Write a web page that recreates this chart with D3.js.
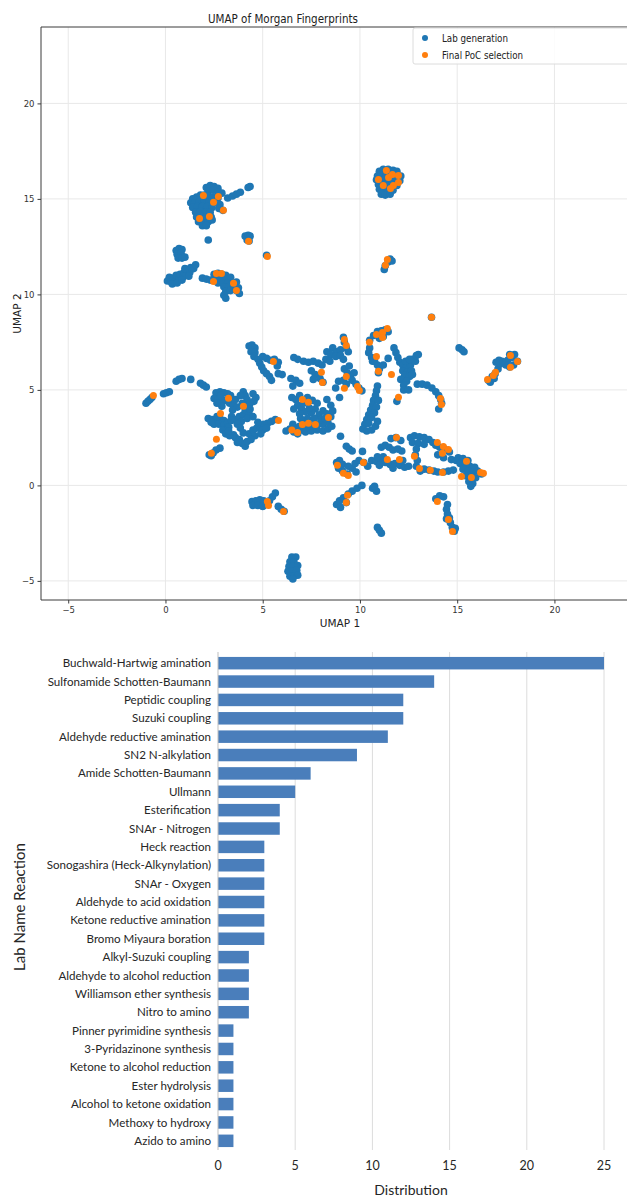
<!DOCTYPE html>
<html>
<head>
<meta charset="utf-8">
<script src="https://cdn.jsdelivr.net/npm/d3@7"></script>
<style>
  body { margin: 0; background: #fff; }
  svg { display: block; }
</style>
</head>
<body>
<svg id="chart"></svg>
<script>
// ---------------------------------------------------------------------------
// Data
// ---------------------------------------------------------------------------
const umapXTicks = [-5, 0, 5, 10, 15, 20];
const umapYTicks = [-5, 0, 5, 10, 15, 20];

// Lab generation points [UMAP 1, UMAP 2]
const labGeneration = [
  // upper-left group around (2, 14.5)
  [2.1,15.6],[2.3,15.7],[2.5,15.65],[2.7,15.55],[2.2,15.4],[2.45,15.45],[2.7,15.35],[2.9,15.3],
  [1.4,15.0],[1.6,15.1],[1.8,15.2],[2.0,15.2],[2.2,15.15],[2.45,15.1],[2.7,15.05],
  [1.3,14.8],[1.5,14.8],[1.75,14.85],[2.0,14.9],[2.25,14.85],[2.5,14.8],[2.8,14.7],
  [1.4,14.55],[1.65,14.6],[1.9,14.6],[2.15,14.6],[2.4,14.55],[2.75,14.5],[2.95,14.4],
  [1.55,14.3],[1.8,14.35],[2.05,14.3],[2.3,14.3],[1.6,14.05],[1.85,14.1],[2.1,14.05],[2.35,14.05],
  [1.7,13.8],[1.95,13.75],[2.2,13.8],[2.4,13.9],[1.9,13.6],[2.1,13.6],
  [3.2,15.05],[3.45,15.15],[3.65,15.25],[3.85,15.35],[4.25,15.6],[4.35,15.65],
  [2.2,12.85],[4.1,13.05],[4.25,13.1],[4.35,13.05],[4.2,12.85],[4.3,12.8],[5.2,12.05],
  // left group around (0.8, 11)
  [0.55,12.3],[0.7,12.4],[0.85,12.35],[0.6,12.1],[0.8,12.15],[0.65,11.9],[0.85,11.9],[1.0,11.95],
  [0.1,10.7],[0.2,10.9],[0.3,10.65],[0.4,10.85],[0.5,10.7],[0.55,11.0],[0.7,10.8],[0.75,11.05],
  [0.9,10.9],[0.95,11.15],[1.05,11.0],[1.1,11.3],[1.25,11.15],[1.3,11.4],[1.45,11.35],[1.55,11.55],
  [0.35,10.55],[0.6,10.6],[0.85,10.75],[1.2,10.95],[1.0,11.35],
  // group around (3, 10.5)
  [1.9,10.85],[2.1,10.8],[2.3,10.75],[2.5,11.05],[2.7,11.1],[2.9,11.05],[3.1,11.0],[2.6,10.85],
  [2.85,10.85],[3.1,10.8],[3.35,10.9],[2.7,10.6],[2.95,10.6],[3.2,10.6],[3.45,10.6],[3.65,10.65],
  [3.0,10.4],[3.25,10.4],[3.5,10.4],[3.75,10.35],[3.1,10.15],[3.35,10.2],[3.65,10.2],[3.0,9.95],
  [3.1,9.8],[3.8,10.05],
  // upper group around (11.5, 16)
  [11.0,16.45],[11.2,16.55],[11.45,16.55],[11.7,16.5],[11.9,16.45],
  [10.9,16.2],[11.1,16.3],[11.35,16.3],[11.6,16.3],[11.85,16.3],[12.1,16.2],
  [10.85,16.0],[11.05,16.0],[11.3,16.05],[11.55,16.05],[11.8,16.0],[12.05,15.95],
  [10.95,15.75],[11.15,15.75],[11.4,15.8],[11.65,15.75],[11.9,15.7],
  [11.0,15.5],[11.2,15.5],[11.45,15.5],[11.7,15.45],[11.1,15.25],[11.3,15.2],[11.55,15.25],
  [11.25,11.3],[11.3,11.5],[11.45,11.7],[11.55,11.85],[11.65,11.75],
  [13.68,8.8],
  // far-left arc
  [-1.0,4.3],[-0.9,4.4],[-0.8,4.5],[-0.7,4.6],[-0.1,4.8],[0.05,4.85],[0.2,4.9],[0.55,5.45],
  [0.7,5.55],[0.85,5.6],[1.3,5.55],[1.8,5.35],[1.95,5.25],[2.1,5.15],
  // left-central group
  [2.6,4.85],[2.8,4.9],[3.0,4.85],[3.2,4.8],[3.35,4.7],[2.5,4.55],[2.7,4.5],[2.9,4.4],[3.1,4.45],
  [3.3,4.3],[3.5,4.2],[3.7,4.1],[3.45,3.95],[4.0,4.9],[4.1,4.7],[4.2,4.5],[3.95,4.3],[4.15,4.2],
  [4.5,4.8],[4.65,4.6],[4.55,4.4],
  [2.2,3.5],[2.4,3.45],[2.6,3.4],[2.8,3.5],[3.0,3.4],[2.5,3.2],[2.75,3.2],[3.0,3.15],[3.2,3.3],
  [3.4,3.6],[3.6,3.45],[3.8,3.6],[4.0,3.7],[3.9,3.35],[3.7,3.2],[4.1,3.95],[4.3,3.75],[4.2,3.5],[4.5,3.6],
  [2.95,2.9],[3.1,2.7],[3.3,2.6],[3.5,2.65],[3.6,2.5],[3.8,2.4],[3.95,2.2],[4.1,2.05],[4.2,2.3],[3.7,2.25],
  [4.3,2.7],[4.5,2.9],[4.7,3.0],[4.6,2.6],[4.4,2.4],
  [4.85,3.1],[5.05,3.2],[5.25,3.25],[5.45,3.35],[5.65,3.45],[5.0,2.9],[4.9,2.7],
  [2.25,1.6],[2.45,1.7],[2.6,1.85],[2.8,1.95],[2.35,1.55],
  [2.35,3.3],[2.65,3.6],[3.25,3.05],[3.4,3.4],[2.9,4.15],[2.65,4.3],[3.6,4.5],[3.85,4.7],
  [4.35,4.3],[4.35,4.0],[3.85,3.0],[4.0,2.75],[3.25,2.85],[2.85,4.7],[4.75,3.3],[5.2,3.0],
  // top-middle chain around (5, 6.5)
  [4.3,7.3],[4.45,7.35],[4.6,7.2],[4.4,7.0],[4.6,6.95],[4.55,6.75],[4.75,6.6],
  [4.85,6.4],[4.95,6.2],[5.05,6.0],[5.2,5.85],[5.35,5.7],[5.45,5.5],
  [5.0,6.75],[5.2,6.65],[5.4,6.55],[5.6,6.6],[5.8,6.45],[5.75,6.25],[6.0,5.8],[5.8,5.85],
  // central groups
  [8.6,7.2],[8.8,7.0],[9.0,7.1],[9.3,7.2],[9.4,7.0],[8.3,7.0],[8.5,6.85],[8.25,6.6],[8.45,6.5],
  [8.75,6.75],[9.0,6.8],[9.15,6.6],[9.2,7.5],[9.15,7.75],
  [7.1,6.5],[7.35,6.45],[7.6,6.5],[7.85,6.4],[8.05,6.3],[6.8,6.6],[6.6,6.7],
  [7.5,6.0],[7.7,5.8],[7.95,5.6],[8.1,5.4],[7.6,5.55],
  [6.45,5.6],[6.7,5.5],[6.9,5.35],[6.55,5.2],
  [9.2,6.1],[9.35,5.9],[9.5,5.7],[9.15,5.5],[9.3,5.3],[9.6,5.5],[9.8,5.3],[9.95,5.1],[10.1,4.95],
  [8.9,5.45],[8.75,5.1],[9.45,6.25],[9.7,5.9],
  [6.5,4.6],[6.7,4.5],[6.9,4.7],[7.3,4.6],[7.55,4.45],[7.8,4.3],[7.7,4.0],[7.5,3.8],[7.9,3.7],
  [8.1,3.9],[8.3,3.75],[8.5,3.6],[8.3,4.5],[8.5,4.2],[8.6,3.9],[8.95,4.6],
  [7.3,3.5],[7.1,3.3],[6.9,3.1],[6.7,3.0],[7.4,3.2],[7.6,3.05],[7.85,3.2],[8.1,3.2],[8.35,3.3],
  [6.6,2.8],[6.8,2.7],[7.0,2.9],[8.0,3.45],
  [6.2,2.85],[6.4,2.95],[7.2,2.8],[7.5,2.85],[7.8,2.9],[8.1,2.85],[8.35,2.95],
  [6.8,4.2],[7.0,4.0],[7.2,3.85],[6.6,4.0],[6.9,3.75],
  [7.1,4.3],[7.4,4.05],[7.65,3.5],[8.2,3.5],[6.95,3.5],[6.55,3.2],[8.55,3.1],[7.25,3.05],
  // central-right groups
  [10.9,5.2],[10.85,4.95],[10.8,4.7],[10.7,4.45],[10.65,4.2],[10.55,3.95],[10.45,3.7],[10.35,3.45],
  [10.25,3.2],[10.15,2.95],[10.35,2.85],[10.6,2.9],[10.8,3.1],[10.9,3.35],
  [10.95,4.45],[10.85,4.1],[10.75,3.8],[10.6,3.55],[10.45,3.25],
  [10.5,7.2],[10.45,6.95],[10.6,6.7],[10.75,6.5],[10.9,6.3],[11.0,6.1],[10.95,5.9],[10.65,6.5],[11.2,6.3],
  [10.5,7.6],[10.7,7.85],[10.9,8.05],[11.1,8.1],[11.3,8.15],[11.45,8.05],[11.2,7.8],[11.0,7.7],
  [11.75,7.2],[11.85,6.95],[11.95,6.7],[12.05,6.45],[12.2,6.3],[12.4,6.2],[12.6,6.3],[12.2,6.0],
  [12.45,5.95],[12.65,6.0],[12.3,5.75],[12.55,5.7],[12.1,5.55],[12.4,5.45],[12.7,6.6],[12.85,6.5],
  [12.9,6.8],[13.0,6.85],[11.45,6.65],[12.35,6.5],[12.55,6.6],[12.7,5.8],[12.25,5.25],
  [12.95,5.3],[13.2,5.3],[13.45,5.25],[13.7,5.1],[13.9,4.9],[14.05,4.7],[14.15,4.5],[14.2,4.3],[14.05,4.0],
  [12.25,5.0],[12.5,5.0],[11.9,4.4],
  // lower band around (12, 1)
  [9.0,2.57],[9.3,2.05],[9.45,1.9],[9.6,1.8],[10.13,1.78],
  [8.8,1.2],[8.95,1.3],[8.9,0.9],[9.1,0.75],[9.35,0.6],[9.6,0.9],[9.75,1.15],[9.95,1.3],[10.2,1.2],
  [10.4,1.0],[9.8,0.7],[9.1,1.1],[9.4,1.0],
  [10.6,1.3],[10.85,1.25],[11.1,1.3],[11.3,1.2],[11.55,1.1],[11.8,1.15],[12.05,1.05],[12.3,0.95],
  [12.5,1.0],[11.0,1.05],[11.7,0.9],[11.2,1.5],[10.9,1.5],[12.2,1.3],
  [11.1,2.0],[11.3,2.1],[11.5,2.0],[11.7,1.85],[11.95,1.9],[12.15,1.8],[11.6,2.45],[11.85,2.5],[12.1,2.35],
  [12.6,2.5],[12.8,2.6],[13.05,2.55],[13.3,2.5],[13.55,2.4],[13.75,2.25],[12.7,2.25],[13.0,2.2],
  [13.3,2.15],[12.9,1.9],[12.85,1.6],[12.95,1.3],[12.9,1.0],[13.1,0.75],
  [13.3,0.85],[13.55,0.8],[13.8,0.75],[14.0,0.7],[14.3,0.7],[14.55,0.75],[14.8,0.8],
  [13.9,2.1],[14.1,2.0],[14.35,1.9],[14.6,1.75],[14.0,1.6],[14.3,1.45],[14.7,1.35],[14.95,1.3],
  [15.05,1.45],[15.3,1.4],[15.55,1.3],[15.15,1.15],[15.4,1.1],[15.65,1.0],[15.9,0.95],[15.3,0.85],
  [15.55,0.75],[15.8,0.7],[16.05,0.75],[16.25,0.6],[15.45,0.5],[15.7,0.45],[15.95,0.4],[15.6,0.2],
  [15.8,0.1],[15.7,-0.05],
  [8.8,-1.0],[8.95,-0.8],[9.15,-0.65],[9.4,-0.45],[9.6,-0.3],[9.85,-0.15],[10.1,0.0],[9.0,-1.15],
  [9.3,-0.9],[10.65,-0.15],[10.85,-0.3],[10.75,-0.05],
  [13.9,-0.7],[14.1,-0.55],[14.3,-0.6],[14.5,-1.0],
  [14.45,-1.25],[14.5,-1.5],[14.6,-1.7],[14.65,-1.95],[14.75,-2.2],[14.85,-2.4],[14.45,-1.75],[14.9,-2.25],
  [10.9,-2.2],[11.0,-2.35],[11.1,-2.5],
  // right groups
  [15.1,7.2],[15.25,7.1],[15.35,7.0],
  [16.6,5.5],[16.8,5.7],[16.95,5.85],[17.1,6.1],[17.2,6.35],[17.4,6.45],[17.6,6.55],[17.8,6.7],
  [17.95,6.85],[17.7,6.85],[17.5,6.3],[17.7,6.2],[17.9,6.3],[18.1,6.5],[17.3,6.5],[17.15,6.55],
  [17.0,6.45],[16.7,5.4],[16.9,5.6],
  // bottom groups
  [4.45,-0.85],[4.65,-0.8],[4.85,-0.75],[5.05,-0.8],[4.5,-1.05],[4.75,-1.05],[5.0,-1.1],[5.2,-1.0],
  [5.35,-0.8],[5.5,-0.6],[5.65,-0.4],[5.8,-1.1],[5.95,-1.25],[6.1,-1.35],
  [6.5,-3.75],[6.7,-3.75],[6.4,-4.0],[6.6,-4.0],[6.35,-4.25],[6.55,-4.25],[6.8,-4.2],[6.3,-4.5],
  [6.5,-4.5],[6.75,-4.45],[6.4,-4.75],[6.6,-4.75],[6.8,-4.7],[6.55,-4.9]
];

// Final PoC selection points [UMAP 1, UMAP 2]
const pocSelection = [
  [1.95,15.18],[2.72,15.13],[2.47,14.82],[2.98,14.4],[1.75,13.98],[2.26,14.08],
  [4.27,12.78],[5.24,11.99],
  [2.62,11.1],[2.88,11.1],[2.47,10.68],[3.5,10.58],[3.65,10.21],
  [11.36,16.49],[10.95,16.02],[11.2,15.7],[11.47,16.12],[11.67,16.28],[11.98,16.23],[11.98,15.86],
  [11.72,15.7],[11.57,15.55],
  [11.41,11.83],[11.31,11.52],
  [13.68,8.8],
  [-0.62,4.71],
  [3.24,4.56],[2.83,3.77],[4.01,4.14],[5.81,3.40],[2.36,1.68],[2.62,2.41],
  [5.55,6.49],
  [9.2,7.64],[9.3,7.33],[8.02,5.92],[8.07,5.39],
  [9.3,5.7],[9.2,5.08],[9.87,5.18],[9.97,4.97],
  [10.85,7.9],[11.16,8.01],[11.41,8.22],[10.49,7.49],[11.16,7.75],
  [10.85,6.75],[10.95,5.97],[11.62,5.81],[11.98,4.61],
  [14.14,4.55],[14.19,4.24],
  [7.04,4.5],[7.35,4.35],[8.38,3.56],[7.04,3.19],[7.35,3.25],[7.71,3.19],[6.79,2.77],[6.5,2.9],
  [8.84,1.05],[9.15,0.63],[9.4,0.52],[10.18,1.2],[11.41,1.36],[12.03,1.36],[11.88,2.51],
  [12.8,1.52],[13.06,0.89],[13.62,0.79],[14.24,0.68],[13.98,2.25],[14.29,2.04],[14.55,1.88],[14.24,1.68],
  [15.48,1.26],[15.22,0.47],[15.73,0.42],[16.2,0.68],[16.35,0.63],
  [9.36,-0.52],[9.3,-0.89],
  [13.98,-0.84],[14.55,-1.78],[14.76,-2.41],
  [5.24,-0.84],[5.3,-1.05],[6.07,-1.36],
  [17.74,6.8],[18.1,6.49],[17.74,6.18],[16.97,5.92],[16.86,5.76],[16.56,5.55]
];

const reactionNames = [
  "Buchwald-Hartwig amination", "Sulfonamide Schotten-Baumann", "Peptidic coupling",
  "Suzuki coupling", "Aldehyde reductive amination", "SN2 N-alkylation",
  "Amide Schotten-Baumann", "Ullmann", "Esterification", "SNAr - Nitrogen",
  "Heck reaction", "Sonogashira (Heck-Alkynylation)", "SNAr - Oxygen",
  "Aldehyde to acid oxidation", "Ketone reductive amination", "Bromo Miyaura boration",
  "Alkyl-Suzuki coupling", "Aldehyde to alcohol reduction", "Williamson ether synthesis",
  "Nitro to amino", "Pinner pyrimidine synthesis", "3-Pyridazinone synthesis",
  "Ketone to alcohol reduction", "Ester hydrolysis", "Alcohol to ketone oxidation",
  "Methoxy to hydroxy", "Azido to amino"
];
const reactionCounts = [25, 14, 12, 12, 11, 9, 6, 5, 4, 4, 3, 3, 3, 3, 3, 3, 2, 2, 2, 2, 1, 1, 1, 1, 1, 1, 1];
const distributionTicks = [0, 5, 10, 15, 20, 25];

// ---------------------------------------------------------------------------
// Setup
// ---------------------------------------------------------------------------
const W = 627, H = 1198;
const svg = d3.select("#chart").attr("width", W).attr("height", H);

const mplFont = "'DejaVu Sans', sans-serif";
const xlFont = "Lato, 'Open Sans', sans-serif";

// ---------------------------------------------------------------------------
// UMAP scatter
// ---------------------------------------------------------------------------
const sc = { left: 41, right: 640, top: 27, bottom: 600 };

const xU = d3.scaleLinear().domain([-6.4, 24.4]).range([sc.left, sc.right]);
const yU = d3.scaleLinear().domain([-6, 24]).range([sc.bottom, sc.top]);

svg.append("defs").append("clipPath").attr("id", "plotClip")
  .append("rect")
  .attr("x", sc.left).attr("y", sc.top)
  .attr("width", sc.right - sc.left).attr("height", sc.bottom - sc.top);

// grid
const grid = svg.append("g").attr("class", "grid");
grid.selectAll("line.gx").data(umapXTicks).join("line")
  .attr("class", "gx")
  .attr("x1", d => xU(d)).attr("x2", d => xU(d))
  .attr("y1", sc.top).attr("y2", sc.bottom)
  .attr("stroke", "#e8e8e8").attr("stroke-width", 1);
grid.selectAll("line.gy").data(umapYTicks).join("line")
  .attr("class", "gy")
  .attr("x1", sc.left).attr("x2", sc.right)
  .attr("y1", d => yU(d)).attr("y2", d => yU(d))
  .attr("stroke", "#e8e8e8").attr("stroke-width", 1);

// points: lab generation first, PoC selection on top
const pts = svg.append("g").attr("clip-path", "url(#plotClip)");
pts.selectAll("circle.lab").data(labGeneration).join("circle")
  .attr("class", "lab")
  .attr("cx", d => xU(d[0])).attr("cy", d => yU(d[1]))
  .attr("r", 3.8)
  .attr("fill", "#1f77b4");
pts.selectAll("circle.poc").data(pocSelection).join("circle")
  .attr("class", "poc")
  .attr("cx", d => xU(d[0])).attr("cy", d => yU(d[1]))
  .attr("r", 3.5)
  .attr("fill", "#ff7f0e");

// axes
const fmtMinus = d => d < 0 ? "\u2212" + Math.abs(d) : d;
const xAxisU = svg.append("g")
  .attr("transform", `translate(0,${sc.bottom})`)
  .call(d3.axisBottom(xU).tickValues(umapXTicks).tickSize(3.5).tickPadding(3).tickFormat(fmtMinus));
const yAxisU = svg.append("g")
  .attr("transform", `translate(${sc.left},0)`)
  .call(d3.axisLeft(yU).tickValues(umapYTicks).tickSize(3.5).tickPadding(3).tickFormat(fmtMinus));
[xAxisU, yAxisU].forEach(a => {
  a.select(".domain").remove();
  a.selectAll(".tick line").attr("stroke", "#3a3a3a");
  a.selectAll(".tick text").attr("fill", "#333").style("font-family", mplFont).style("font-size", "8.5px");
});

// spines: left, bottom, top
svg.append("path")
  .attr("d", `M${sc.right},${sc.top}H${sc.left}V${sc.bottom}H${sc.right}`)
  .attr("fill", "none").attr("stroke", "#3a3a3a").attr("stroke-width", 1);

svg.append("text")
  .attr("x", 283).attr("y", 23)
  .attr("text-anchor", "middle")
  .attr("textLength", 150).attr("lengthAdjust", "spacingAndGlyphs")
  .style("font-family", mplFont).style("font-size", "12px").attr("fill", "#222")
  .text("UMAP of Morgan Fingerprints");

svg.append("text")
  .attr("x", 340).attr("y", 627)
  .attr("text-anchor", "middle")
  .style("font-family", mplFont).style("font-size", "10.5px").attr("fill", "#222")
  .text("UMAP 1");

svg.append("text")
  .attr("transform", `translate(21,${(sc.top + sc.bottom) / 2}) rotate(-90)`)
  .attr("text-anchor", "middle")
  .style("font-family", mplFont).style("font-size", "10.5px").attr("fill", "#222")
  .text("UMAP 2");

// legend
const legend = svg.append("g").attr("transform", "translate(413,28)");
legend.append("rect")
  .attr("x", 0).attr("y", 0).attr("width", 240).attr("height", 36).attr("rx", 2)
  .attr("fill", "#fff").attr("fill-opacity", 0.85)
  .attr("stroke", "#dcdcdc");
const legendItems = [
  { label: "Lab generation", color: "#1f77b4", width: 66 },
  { label: "Final PoC selection", color: "#ff7f0e", width: 81 }
];
legendItems.forEach((it, i) => {
  legend.append("circle").attr("cx", 12).attr("cy", 10 + i * 17).attr("r", 3).attr("fill", it.color);
  legend.append("text")
    .attr("x", 29).attr("y", 10 + i * 17).attr("dy", "0.35em")
    .attr("textLength", it.width).attr("lengthAdjust", "spacingAndGlyphs")
    .style("font-family", mplFont).style("font-size", "10.5px").attr("fill", "#222")
    .text(it.label);
});

// ---------------------------------------------------------------------------
// Reaction distribution bar chart
// ---------------------------------------------------------------------------
const bc = { left: 218, right: 604, top: 654, bottom: 1150 };

const xB = d3.scaleLinear().domain([0, 25]).range([bc.left, bc.right]);
const yB = d3.scaleBand().domain(reactionNames).range([bc.top, bc.bottom]).paddingInner(0.32).paddingOuter(0.16);

svg.append("g").selectAll("line").data(distributionTicks.slice(1)).join("line")
  .attr("x1", d => xB(d)).attr("x2", d => xB(d))
  .attr("y1", bc.top - 2).attr("y2", bc.bottom)
  .attr("stroke", "#dcdcdc").attr("stroke-width", 1);

svg.append("g").selectAll("rect").data(reactionNames).join("rect")
  .attr("x", xB(0))
  .attr("y", d => yB(d))
  .attr("width", (d, i) => xB(reactionCounts[i]) - xB(0))
  .attr("height", yB.bandwidth())
  .attr("fill", "#4a7ebb");

svg.append("line")
  .attr("x1", bc.left).attr("x2", bc.left)
  .attr("y1", bc.top - 2).attr("y2", bc.bottom)
  .attr("stroke", "#bfbfbf").attr("stroke-width", 1);

svg.append("g").selectAll("text").data(reactionNames).join("text")
  .attr("x", bc.left - 7)
  .attr("y", d => yB(d) + yB.bandwidth() / 2)
  .attr("dy", "0.35em")
  .attr("text-anchor", "end")
  .style("font-family", xlFont).style("font-size", "11.6px").attr("fill", "#262626")
  .text(d => d);

svg.append("g").selectAll("text").data(distributionTicks).join("text")
  .attr("x", d => xB(d)).attr("y", 1166)
  .attr("dy", "0.35em")
  .attr("text-anchor", "middle")
  .style("font-family", xlFont).style("font-size", "12.5px").attr("fill", "#262626")
  .text(d => d);

svg.append("text")
  .attr("x", 411).attr("y", 1195)
  .attr("text-anchor", "middle")
  .style("font-family", xlFont).style("font-size", "14px").attr("fill", "#262626")
  .text("Distribution");

svg.append("text")
  .attr("transform", `translate(25,907) rotate(-90)`)
  .attr("text-anchor", "middle")
  .style("font-family", xlFont).style("font-size", "15px").attr("fill", "#262626")
  .text("Lab Name Reaction");
</script>
</body>
</html>
